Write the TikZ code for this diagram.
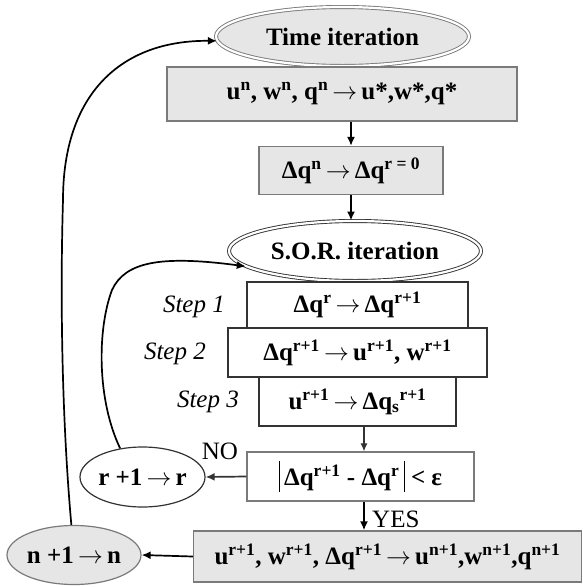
\documentclass[tikz,border=0pt]{standalone}
\usepackage{fontspec}
\setmainfont{Liberation Serif}
\usetikzlibrary{shapes.geometric,arrows.meta}
\definecolor{lightfill}{HTML}{E6E6E6}
\definecolor{boxgray}{HTML}{7A7A7A}
\definecolor{darkline}{HTML}{333333}
\newcommand\spx[1]{\textsuperscript{#1}}
\newcommand\ar{\,$\rightarrow$\,}
\newcommand\vbar{\rule[-0.28em]{1.2pt}{1.25em}}
\begin{document}
\begin{tikzpicture}[x=1pt,y=-1pt,
  every node/.style={font=\fontsize{25}{29}\selectfont\bfseries, inner sep=0pt},
  graybox/.style={draw=boxgray, fill=lightfill, line width=1.3pt, rectangle},
  whitebox/.style={draw=darkline, fill=white, line width=1.3pt, rectangle},
  grayell/.style={ellipse, draw=boxgray, fill=lightfill, line width=1.2pt},
  whiteell/.style={ellipse, draw=darkline, fill=white, line width=1.2pt},
  dbl/.style={double=white, double distance=2.2pt, line width=0.9pt},
  steplabel/.style={font=\fontsize{25}{29}\selectfont\itshape\mdseries},
  plainlabel/.style={font=\fontsize{25}{29}\selectfont\mdseries},
  conn/.style={line width=1.7pt, -{Latex[length=9pt,width=8pt]}},
  thinconn/.style={line width=1.2pt, draw=darkline, -{Latex[length=8pt,width=7pt]}}]
\useasboundingbox (0,0) rectangle (583,587);

\node[grayell, dbl, minimum width=253pt, minimum height=59pt] (time) at (342.5,36.5) {Time iteration};
\node[graybox, minimum width=350pt, minimum height=54pt] (box1) at (342,94)
  {u\spx{n}, w\spx{n}, q\spx{n}\ar u*,w*,q*};
\node[graybox, minimum width=184pt, minimum height=48pt] (dq) at (351,170.5)
  {Δq\spx{n}\ar Δq\spx{r = 0}};
\node[whiteell, dbl, minimum width=252pt, minimum height=60pt] (sor) at (355,251) {S.O.R. iteration};
\node[whitebox, minimum width=221pt, minimum height=46pt] (s1) at (357.5,305)
  {Δq\spx{r}\ar Δq\spx{r+1}};
\node[whitebox, minimum width=259pt, minimum height=49pt] (s2) at (357.5,352.5)
  {Δq\spx{r+1}\ar u\spx{r+1}, w\spx{r+1}};
\node[whitebox, minimum width=197pt, minimum height=49pt] (s3) at (357.5,401.5)
  {u\spx{r+1}\ar Δq\textsubscript{s}\spx{r+1}};
\node[whitebox, draw=boxgray, minimum width=227pt, minimum height=49pt] (check) at (360.5,476.5)
  {\vbar\,Δq\spx{r+1} - Δq\spx{r}\,\vbar\ < ε};
\node[graybox, minimum width=388pt, minimum height=51pt] (final) at (387.5,556.5)
  {u\spx{r+1}, w\spx{r+1}, Δq\spx{r+1}\ar u\spx{n+1},w\spx{n+1},q\spx{n+1}};
\node[whiteell, minimum width=123pt, minimum height=60pt] (rr) at (142.5,477) {r +1\ar r};
\node[grayell, minimum width=134pt, minimum height=59pt] (nn) at (74,555) {n +1\ar n};

\node[steplabel, anchor=east] (l1) at (225,307) {Step 1};
\node[steplabel, anchor=east] (l2) at (206,354) {Step 2};
\node[steplabel, anchor=east] (l3) at (239,402) {Step 3};
\node[plainlabel] (no) at (220,451) {NO};
\node[plainlabel, anchor=west] (yes) at (372,519) {YES};

\draw[conn] (dq.north |- box1.south) -- (dq.north);
\draw[conn] (dq.south) -- (dq.south |- sor.north);
\draw[thinconn] ([xshift=3.5pt]check.north |- s3.south) -- ([xshift=3.5pt]check.north);
\draw[conn] ([xshift=3.5pt]check.south) -- ([xshift=3.5pt]check.south |- final.north);
\draw[conn, draw=darkline] (check.west) -- (rr.east);
\draw[conn] (final.west) -- (nn.east);
\draw[conn] (rr.128) .. controls (97,400) and (97,330) .. (112,290)
  .. controls (125,262) and (160,255) .. (sor.188);
\draw[conn] (nn.95) .. controls (62,420) and (60,300) .. (63,200)
  .. controls (63,95) and (120,40) .. (time.182);
\end{tikzpicture}
\end{document}
